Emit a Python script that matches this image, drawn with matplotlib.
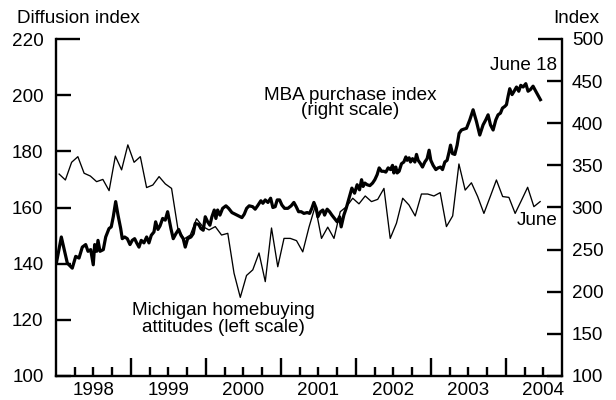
import numpy as np
import matplotlib
matplotlib.use('Agg')
import matplotlib.pyplot as plt

plt.rcParams['font.family'] = ['Liberation Sans', 'DejaVu Sans']

# ---------------- data ----------------
# Michigan homebuying attitudes (left scale), monthly Jan 1998 - Jun 2004
michigan_first_year = 1998
michigan = [171.9, 169.8, 176.1, 178.1, 172.2, 171.2, 169.2, 170.0, 166.0, 178.3,
            173.4, 182.3, 176.1, 178.1, 167.1, 168.0, 171.0, 168.4, 166.8, 152.6,
            148.8, 150.2, 156.0, 153.2, 152.0, 153.2, 150.2, 150.8, 136.6, 128.0,
            135.8, 137.8, 143.8, 133.6, 152.7, 138.9, 149.0, 149.0, 148.2, 144.2,
            153.0, 160.5, 149.0, 153.0, 149.0, 158.5, 160.3, 163.3, 161.3, 164.1,
            162.1, 162.9, 166.8, 149.0, 154.4, 163.3, 160.9, 157.0, 164.8, 164.8,
            164.1, 165.3, 153.2, 157.0, 175.5, 166.2, 168.8, 163.9, 157.9, 163.8,
            169.8, 163.9, 163.6, 157.9, 162.5, 167.2, 160.3, 162.1]

# MBA purchase index (right scale), weekly readings (decimal years)
mba_dates = [
    1998.005, 1998.071, 1998.151, 1998.217, 1998.263, 1998.307, 1998.351, 1998.396, 1998.427, 1998.463,
    1998.497, 1998.516, 1998.543, 1998.560, 1998.587, 1998.631, 1998.663, 1998.707, 1998.737, 1998.764,
    1998.796, 1998.827, 1998.863, 1998.884, 1998.916, 1998.951, 1998.987,
    1999.017, 1999.049, 1999.076, 1999.107, 1999.137, 1999.173, 1999.209, 1999.240, 1999.271, 1999.307,
    1999.329, 1999.360, 1999.387,
    1999.423, 1999.457, 1999.489, 1999.511, 1999.533, 1999.564, 1999.600, 1999.636, 1999.667, 1999.697,
    1999.724, 1999.756, 1999.800, 1999.831, 1999.857, 1999.903, 1999.933, 1999.964, 1999.991,
    2000.023, 2000.053, 2000.080, 2000.111, 2000.133, 2000.156, 2000.187, 2000.223, 2000.267, 2000.303,
    2000.347, 2000.391, 2000.436, 2000.480, 2000.511, 2000.543, 2000.577, 2000.623, 2000.657, 2000.689,
    2000.733,
    2000.760, 2000.791, 2000.827, 2000.863, 2000.893, 2000.924, 2000.951, 2000.983,
    2001.013, 2001.049, 2001.093, 2001.137, 2001.173, 2001.204, 2001.236, 2001.271, 2001.307, 2001.351,
    2001.383, 2001.413, 2001.440, 2001.471, 2001.493, 2001.529, 2001.560, 2001.583, 2001.617, 2001.649,
    2001.680, 2001.716, 2001.751, 2001.783, 2001.804, 2001.840, 2001.871, 2001.916, 2001.947, 2001.983,
    2002.017, 2002.049,
    2002.076, 2002.097, 2002.120, 2002.151, 2002.187, 2002.223, 2002.253, 2002.284, 2002.311, 2002.343,
    2002.373, 2002.400, 2002.431, 2002.463, 2002.489, 2002.507, 2002.533, 2002.551, 2002.577, 2002.609,
    2002.640, 2002.667, 2002.684, 2002.711, 2002.729, 2002.756, 2002.787, 2002.809, 2002.831, 2002.863,
    2002.889, 2002.920, 2002.951, 2002.977,
    2003.000, 2003.031, 2003.067, 2003.097, 2003.129, 2003.156, 2003.187, 2003.217, 2003.244, 2003.263,
    2003.289, 2003.320, 2003.351, 2003.377, 2003.409, 2003.440,
    2003.476, 2003.520, 2003.564, 2003.609, 2003.653, 2003.697, 2003.733, 2003.764, 2003.796, 2003.831,
    2003.867, 2003.897, 2003.929, 2003.956, 2003.987,
    2004.009, 2004.031, 2004.053, 2004.084, 2004.111, 2004.143, 2004.173, 2004.200, 2004.231, 2004.267,
    2004.297, 2004.329, 2004.364, 2004.400, 2004.462]

mba_index = [
    234, 265, 234, 228, 242, 240, 253, 256, 248, 250,
    232, 256, 248, 261, 248, 250, 265, 275, 277, 289,
    307, 291, 275, 263, 265, 263, 256,
    261, 263, 258, 253, 261, 258, 265, 258, 267, 271,
    283, 274, 278,
    287, 285, 295, 285, 275, 263, 269, 274, 267, 263,
    253, 263, 265, 269, 281, 280, 275, 273, 289,
    283, 279, 289, 297, 287, 297, 291, 299, 302, 299,
    294, 292, 290, 288, 292, 299, 302, 301, 298, 302,
    308,
    305, 309, 306, 311, 300, 301, 309, 309,
    303, 299, 299, 302, 306, 301, 295, 295, 293, 294,
    293, 299, 306, 299, 289, 295, 297, 291, 298, 295,
    291, 287, 283, 289, 277, 291, 299, 313, 323, 317,
    327, 321,
    333, 325, 329, 327, 326, 329, 333, 339, 347, 343,
    343, 342, 347, 345, 350, 341, 348, 341, 343, 352,
    354, 360, 356, 359, 354, 358, 354, 363, 356, 352,
    348, 354, 358, 368,
    356, 350, 345, 347, 348, 345, 354, 356, 366, 374,
    364, 363, 374, 388, 392, 393,
    394, 404, 416, 402, 386, 398, 404, 410, 398, 392,
    404, 410, 412, 418, 420,
    422, 432, 441, 434, 438, 443, 438, 445, 443, 447,
    438, 440, 444, 438, 428]

year_labels = ['1998', '1999', '2000', '2001', '2002', '2003', '2004']
left_ticks = [100, 120, 140, 160, 180, 200, 220]
right_ticks = [100, 150, 200, 250, 300, 350, 400, 450, 500]

# ---------------- figure ----------------
FS = 13.6
LW = 1.7
fig = plt.figure(figsize=(6.16, 4.0), dpi=100)
ax = fig.add_axes([56 / 616, 24 / 400, 506 / 616, 337 / 400])
ax2 = ax.twinx()

mich_dates = michigan_first_year + (np.arange(len(michigan)) + 0.5) / 12.0
ax.plot(mich_dates, michigan, color='black', lw=0.95, zorder=2)
ax2.plot(mba_dates, mba_index, color='black', lw=2.3, zorder=3)

first_year = int(year_labels[0])
ax.set_xlim(first_year, first_year + len(year_labels) - 0.25)
ax.set_ylim(left_ticks[0], left_ticks[-1])
ax2.set_ylim(right_ticks[0], right_ticks[-1])

# spines
for s in ['top', 'right']:
    ax.spines[s].set_visible(False)
for s in ['top', 'left', 'bottom']:
    ax2.spines[s].set_visible(False)
ax.spines['left'].set_linewidth(LW)
ax.spines['bottom'].set_linewidth(LW)
ax2.spines['right'].set_linewidth(LW)

# y ticks: top tick longer
ax.set_yticks(left_ticks[:-1], labels=[str(v) for v in left_ticks[:-1]])
ax.set_yticks([left_ticks[-1]], labels=[str(left_ticks[-1])], minor=True)
ax.tick_params(axis='y', which='major', direction='in', length=10.8, width=LW,
               pad=9, labelsize=FS)
ax.tick_params(axis='y', which='minor', direction='in', length=17.3, width=LW,
               pad=9, labelsize=FS)
ax2.set_yticks(right_ticks[:-1], labels=[str(v) for v in right_ticks[:-1]])
ax2.set_yticks([right_ticks[-1]], labels=[str(right_ticks[-1])], minor=True)
ax2.tick_params(axis='y', which='major', direction='in', length=10.8, width=LW,
                pad=7, labelsize=FS)
ax2.tick_params(axis='y', which='minor', direction='in', length=17.3, width=LW,
                pad=7, labelsize=FS)

# x ticks: year boundaries (major), quarters (minor) with year labels mid-year
years = [int(y) for y in year_labels]
ax.set_xticks([y for y in years[1:]], labels=[''] * (len(years) - 1))
q_pos, q_lab = [], []
for y, lab in zip(years, year_labels):
    for q in (0.25, 0.5, 0.75):
        if y + q < ax.get_xlim()[1]:
            q_pos.append(y + q)
            q_lab.append(lab if q == 0.5 else '')
ax.set_xticks(q_pos, labels=q_lab, minor=True)
ax.tick_params(axis='x', which='major', direction='in', length=13, width=LW, pad=3)
ax.tick_params(axis='x', which='minor', direction='in', length=6.5, width=LW,
               pad=4, labelsize=FS)

# texts
fig.text(16.7 / 616, 1 - 18.3 / 400, 'Diffusion index', ha='left', va='center', fontsize=FS)
fig.text(599 / 616, 1 - 18.3 / 400, 'Index', ha='right', va='center', fontsize=FS)
ax.text(0.581, 0.810, 'MBA purchase index\n(right scale)', transform=ax.transAxes,
        ha='center', va='center', multialignment='center', linespacing=0.85, fontsize=FS)
ax.text(0.331, 0.169, 'Michigan homebuying\nattitudes (left scale)', transform=ax.transAxes,
        ha='center', va='center', multialignment='center', linespacing=0.95, fontsize=FS)
ax.text(0.990, 0.920, 'June 18', transform=ax.transAxes, ha='right', va='center', fontsize=FS)
ax.text(0.992, 0.461, 'June', transform=ax.transAxes, ha='right', va='center', fontsize=FS)

fig.savefig('out.png', dpi=100)
